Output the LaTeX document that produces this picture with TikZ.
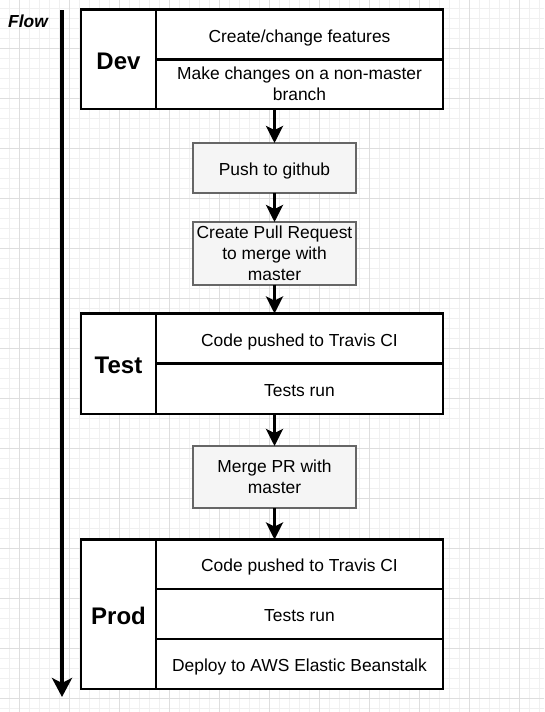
\documentclass[tikz,border=0pt]{standalone}
\usepackage{fontspec}
\setmainfont{Liberation Sans}
\usetikzlibrary{arrows.meta}
\definecolor{gridminor}{HTML}{F0F0F0}
\definecolor{gridmajor}{HTML}{DEDEDE}
\definecolor{grayfill}{HTML}{F5F5F5}
\definecolor{grayline}{HTML}{666666}
\newcommand{\bodystrut}{\rule[-3.8pt]{0pt}{22.8pt}}
\newcommand{\firststrut}{\rule{0pt}{16pt}}
\newcommand{\laststrut}{\rule[-3.8pt]{0pt}{3.8pt}}
\newcommand{\titlestrut}{\rule[-6pt]{0pt}{32pt}}
\tikzset{
  gminor/.style={draw=gridminor,line width=1pt},
  gmajor/.style={draw=gridmajor,line width=1pt},
  cell/.style={draw=black,line width=2.5pt,fill=white,inner sep=0pt,outer sep=0pt,
    font=\fontsize{17.4}{21}\selectfont,align=center,
    execute at begin node=\bodystrut,execute at end node=\bodystrut},
  title/.style={draw=black,line width=2.5pt,fill=white,inner sep=0pt,outer sep=0pt,
    font=\fontsize{24}{29}\selectfont\bfseries,align=center,
    execute at begin node=\titlestrut,execute at end node=\titlestrut},
  graybox/.style={draw=grayline,line width=2pt,fill=grayfill,inner sep=0pt,outer sep=0pt,
    font=\fontsize{17.4}{21}\selectfont,align=center,minimum width=163pt,
    execute at begin node=\bodystrut,execute at end node=\bodystrut},
  multi/.style={execute at begin node={},execute at end node={}},
  arr/.style={line width=3pt,-{Stealth[length=17pt,width=17pt,inset=4pt]}},
  flowarr/.style={line width=4pt,-{Stealth[length=19pt,width=20pt,inset=5pt]}},
}
\begin{document}
\begin{tikzpicture}[x=1pt,y=-1pt]
\useasboundingbox (0,0) rectangle (544,712);
\fill[white] (0,0) rectangle (544,712);
% grid
\foreach \x in {9.5,19.5,...,539.5} \draw[gminor] (\x,0) -- (\x,712);
\foreach \y in {8,18,...,708} \draw[gminor] (0,\y) -- (544,\y);
\foreach \x in {19.5,69.5,...,519.5} \draw[gmajor] (\x,0) -- (\x,712);
\foreach \y in {48,98,...,698} \draw[gmajor] (0,\y) -- (544,\y);

% Flow
\node (flowlabel) at (28,21) {\fontsize{17.4}{21}\selectfont\bfseries\itshape Flow};
\coordinate (flowtop) at (62,10);
\coordinate (flowbot) at (62,697);
\draw[flowarr] (flowtop) -- (flowbot);

% Dev
\node[title,minimum width=75pt,minimum height=99.5pt,anchor=north west] (devl) at (81,9.5) {Dev};
\node[cell,minimum width=287pt,minimum height=50pt,anchor=north west] (dev1) at (156,9.5) {Create/change features};
\node[cell,multi,minimum width=287pt,minimum height=49.5pt,anchor=north west] (dev2) at (156,59.5) {\firststrut Make changes on a non-master\\branch\laststrut};

% gray steps
\node[graybox,minimum height=49.5pt,anchor=north west] (push) at (193,143) {Push to github};
\node[graybox,multi,minimum height=62.5pt,anchor=north west] (pr) at (193,222) {\firststrut Create Pull Request\\to merge with\\master\laststrut};

% Test
\node[title,minimum width=75pt,minimum height=100.5pt,anchor=north west] (testl) at (81,313.5) {Test};
\node[cell,minimum width=287pt,minimum height=50pt,anchor=north west] (test1) at (156,313.5) {Code pushed to Travis CI};
\node[cell,minimum width=287pt,minimum height=50.5pt,anchor=north west] (test2) at (156,363.5) {Tests run};

\node[graybox,multi,minimum height=62pt,anchor=north west] (merge) at (193,446) {\firststrut Merge PR with\\master\laststrut};

% Prod
\node[title,minimum width=75pt,minimum height=149.5pt,anchor=north west] (prodl) at (81,539.5) {Prod};
\node[cell,minimum width=287pt,minimum height=49.5pt,anchor=north west] (prod1) at (156,539.5) {Code pushed to Travis CI};
\node[cell,minimum width=287pt,minimum height=50pt,anchor=north west] (prod2) at (156,589) {Tests run};
\node[cell,minimum width=287pt,minimum height=50pt,anchor=north west] (prod3) at (156,639) {Deploy to AWS Elastic Beanstalk};

% connectors
\draw[arr] (push.north |- dev2.south) -- (push.north);
\draw[arr] (push.south) -- (pr.north);
\draw[arr] (pr.south) -- (pr.south |- test1.north);
\draw[arr] (merge.north |- test2.south) -- (merge.north);
\draw[arr] (merge.south) -- (merge.south |- prod1.north);
\end{tikzpicture}
\end{document}
